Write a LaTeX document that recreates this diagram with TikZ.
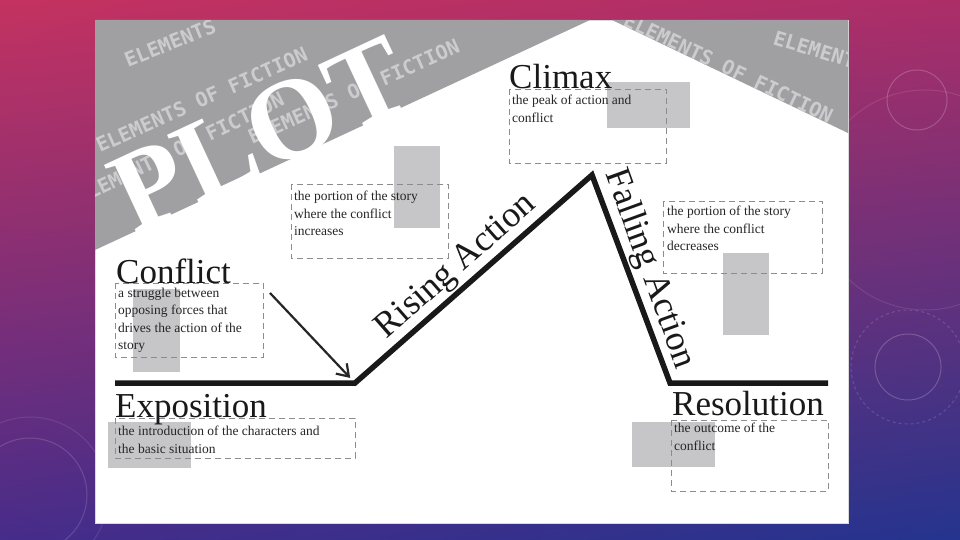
\documentclass[tikz,border=0pt]{standalone}
\usepackage{fontspec}
\setmainfont{Liberation Serif}
\newfontfamily\pixelfont{DejaVu Sans Mono}
\usetikzlibrary{arrows.meta, shadings}

\definecolor{bgtl}{RGB}{196,50,96}
\definecolor{bgtr}{RGB}{172,46,104}
\definecolor{bgbl}{RGB}{70,44,138}
\definecolor{bgbr}{RGB}{36,52,142}
\definecolor{bandgrey}{RGB}{160,160,162}
\definecolor{bandletter}{RGB}{204,204,206}
\definecolor{shadegrey}{RGB}{198,198,200}

\begin{document}
\begin{tikzpicture}[
    x=1pt, y=-1pt,
    >={Straight Barb[length=11pt, width=15pt]},
    plotline/.style={line width=5.5pt, miter limit=20, black!90},
    pointer/.style={->, line width=2.2pt, black!85, shorten >=7pt},
    heading/.style={anchor=base west, inner sep=0pt, font=\fontsize{35}{40}\selectfont, text=black!90},
    desc/.style={anchor=north west, inner sep=0pt, align=left, font=\fontsize{13.5}{17.3}\selectfont, text=black!85},
    descbox/.style={draw=black!45, dash pattern=on 6pt off 4pt, line width=0.7pt},
    placeholder/.style={fill=shadegrey},
    actionlabel/.style={anchor=base, inner sep=0pt, font=\fontsize{36}{40}\selectfont, text=black!90},
    bandtext/.style={anchor=base west, inner sep=0pt, text=bandletter, font=\pixelfont\bfseries\fontsize{20}{20}\selectfont},
    plotword/.style={anchor=base, inner sep=0pt, text=white, font=\bfseries\fontsize{115}{115}\selectfont},
    ring/.style={draw=white, opacity=0.2, line width=1pt}
]
\useasboundingbox (0,0) rectangle (960,540);
\clip (0,0) rectangle (960,540);
% Background and card
\shade[upper left=bgtl, upper right=bgtr, lower left=bgbl, lower right=bgbr] (0,0) rectangle (960,540);
\draw[ring] (917,100) circle[radius=30];
\draw[ring, opacity=0.1] (925,200) circle[radius=110];
\draw[ring] (908,367) circle[radius=33];
\draw[ring, dashed, opacity=0.15] (908,367) circle[radius=57];
\draw[ring, opacity=0.15] (30,495) circle[radius=57];
\draw[ring, opacity=0.1] (30,495) circle[radius=78];
\fill[white] (95,20) rectangle (848,523);
\draw[black!15, line width=0.8pt] (95,20) rectangle (848,523);

% Grey banner
\fill[bandgrey] (95,20) -- (590,20) -- (95,250) -- cycle;
\fill[bandgrey] (612,20) -- (848,20) -- (848,133) -- cycle;
\begin{scope}
  \clip (95,20) -- (590,20) -- (95,250) -- cycle;
  \node[bandtext, rotate=22] (band1) at (128,68) {ELEMENTS};
  \node[bandtext, rotate=24] (band2) at (100,153) {ELEMENTS OF FICTION};
  \node[bandtext, rotate=26] (band3) at (80,205) {ELEMENTS OF FICTION};
  \node[bandtext, rotate=24] (band4) at (252,145) {ELEMENTS OF FICTION};
\end{scope}
\begin{scope}
  \clip (612,20) -- (848,20) -- (848,133) -- cycle;
  \node[bandtext, rotate=-25.6] (band5) at (622,25) {ELEMENTS OF FICTION};
  \node[bandtext, rotate=-17] (band6) at (772,44) {ELEMENTS};
\end{scope}
\begin{scope}
  \clip (95,20) rectangle (848,523);
  \node[plotword, rotate=25] (plot) at (276,168) {PLOT};
\end{scope}

% Placeholders
\fill[placeholder] (394,146) rectangle (440,228);
\fill[placeholder] (607,82) rectangle (690,128);
\fill[placeholder] (133,289) rectangle (180,372);
\fill[placeholder] (108,422) rectangle (191,468);
\fill[placeholder] (723,253) rectangle (769,335);
\fill[placeholder] (632,422) rectangle (715,467);

% Dashed boxes
\draw[descbox] (291,184) rectangle (448,258);
\draw[descbox] (509,89) rectangle (666,163);
\draw[descbox] (663,201) rectangle (822,273);
\draw[descbox] (115,283) rectangle (263,357);
\draw[descbox] (115,418) rectangle (355,458);
\draw[descbox] (671,420) rectangle (828,491);

% Plot line
\coordinate (start) at (115,383);
\coordinate (incite) at (355,383);
\coordinate (peak) at (592,175);
\coordinate (low) at (670,383);
\coordinate (finish) at (828,383);
\draw[plotline] (start) -- (incite) -- (peak) -- (low) -- (finish);
\node[actionlabel, rotate=41.3] (rising) at (462,273) {Rising Action};
\node[actionlabel, rotate=-70] (falling) at (641,272) {Falling Action};

% Headings
\node[heading] (climax) at (509,89) {Climax};
\node[heading] (conflict) at (116,283) {Conflict};
\node[heading] (exposition) at (115,417) {Exposition};
\node[heading] (resolution) at (672,415) {Resolution};

% Descriptions
\node[desc] (climaxtext) at (512,95) {the peak of action and\\conflict};
\node[desc] (risingtext) at (294,191) {the portion of the story\\where the conflict\\increases};
\node[desc] (fallingtext) at (667,206) {the portion of the story\\where the conflict\\decreases};
\node[desc] (conflicttext) at (118,288) {a struggle between\\opposing forces that\\drives the action of the\\story};
\node[desc] (expositiontext) at (118,426) {the introduction of the characters and\\the basic situation};
\node[desc] (resolutiontext) at (674,423) {the outcome of the\\conflict};

% Pointer
\coordinate (arrowtail) at (270,293);
\draw[pointer] (arrowtail) -- (incite);
\end{tikzpicture}
\end{document}
